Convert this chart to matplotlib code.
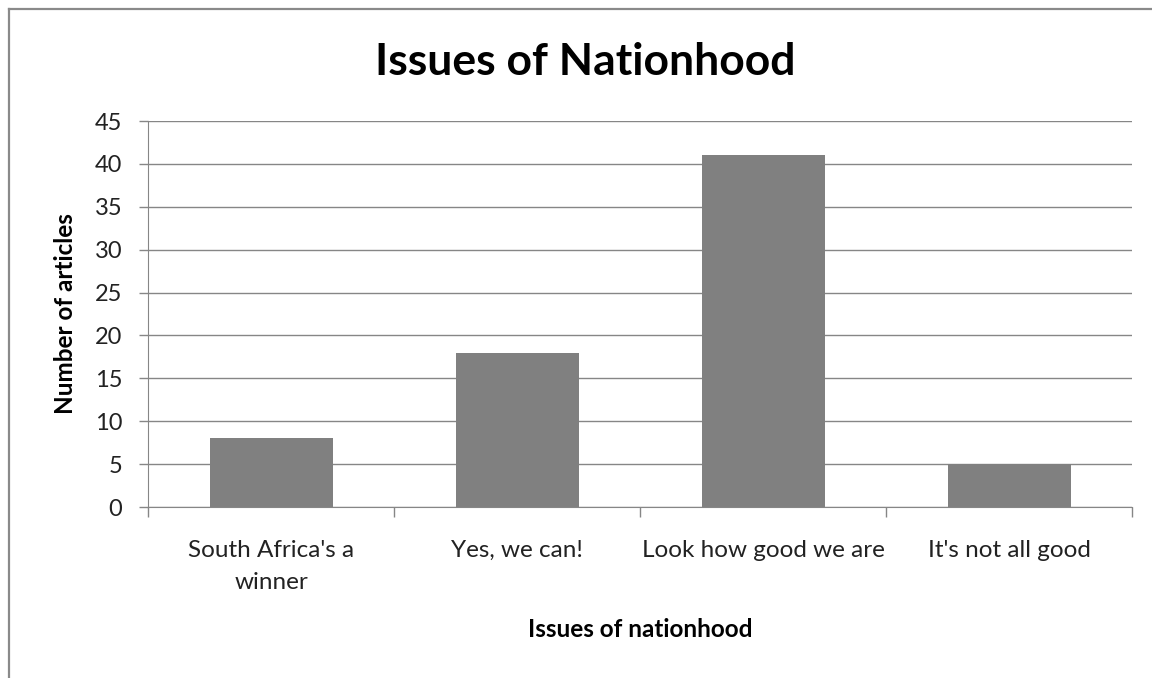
import matplotlib.pyplot as plt
from matplotlib.lines import Line2D
import numpy as np

categories = ["South Africa's a\nwinner", "Yes, we can!", "Look how good we are", "It's not all good"]
articles = [8, 18, 41, 5]
y_ticks = [0, 5, 10, 15, 20, 25, 30, 35, 40, 45]

plt.rcParams['font.family'] = ['Lato', 'DejaVu Sans']

grey = '#868686'
fig = plt.figure(figsize=(11.52, 6.78), dpi=100)
ax = fig.add_axes([148 / 1152, 171 / 678, 984 / 1152, 386 / 678])

x = np.arange(len(categories))
ax.bar(x, articles, width=0.5, color='#808080', zorder=3)

ax.set_xlim(-0.5, len(categories) - 0.5)
ax.set_ylim(0, 45)
ax.set_yticks(y_ticks)
ax.yaxis.grid(True, color=grey, lw=1)
ax.set_axisbelow(True)

# category labels centred, ticks on the boundaries between them
ax.set_xticks(x)
ax.set_xticklabels(categories, fontsize=17.5, color='#222222', linespacing=1.65)
ax.tick_params(axis='x', which='major', length=0, pad=24)
ax.set_xticks(np.arange(-0.5, len(categories)), minor=True)
ax.tick_params(axis='x', which='minor', length=7, color=grey, width=1)
ax.tick_params(axis='y', length=6.5, color=grey, width=1, labelsize=17,
               labelcolor='#222222', pad=12)

for s in ['top', 'right']:
    ax.spines[s].set_visible(False)
for s in ['left', 'bottom']:
    ax.spines[s].set_color(grey)

ax.set_xlabel('Issues of nationhood', fontsize=17.5, fontweight='bold', labelpad=18)
ax.set_ylabel('Number of articles', fontsize=17.5, fontweight='bold', labelpad=13)
fig.text(585 / 1152, 1 - 62 / 678, 'Issues of Nationhood', fontsize=32,
         fontweight='bold', ha='center', va='center')

# chart border (left and top edges visible)
fig.add_artist(Line2D([9 / 1152, 9 / 1152], [0, 1 - 9 / 678], color='#8a8a8a',
                      lw=1.6, transform=fig.transFigure))
fig.add_artist(Line2D([9 / 1152, 1], [1 - 9 / 678, 1 - 9 / 678], color='#8a8a8a',
                      lw=1.6, transform=fig.transFigure))

fig.savefig('out.png', dpi=100)
